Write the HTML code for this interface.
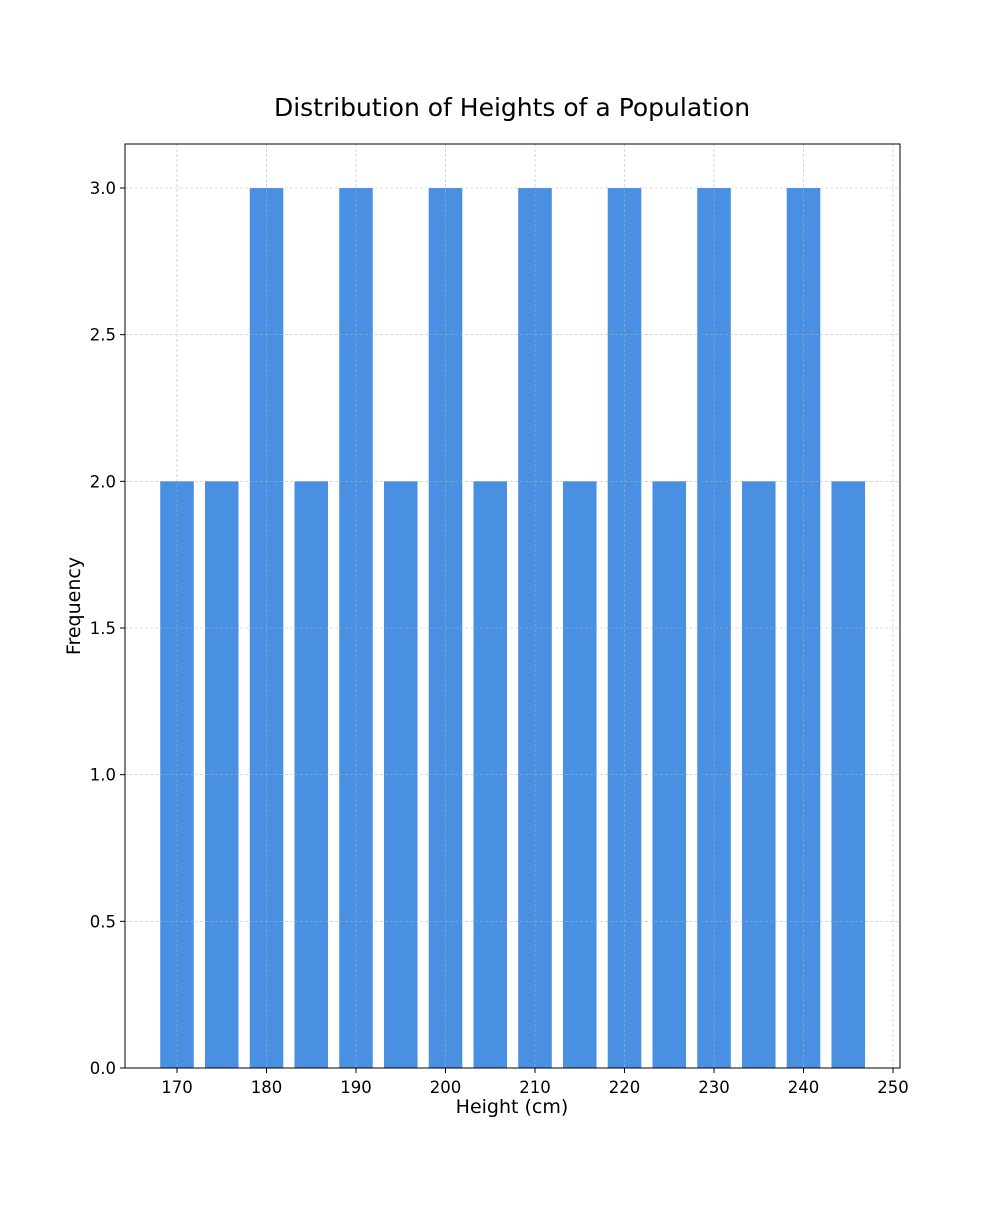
<!DOCTYPE html>
<html><head><meta charset="utf-8"><style>
body{margin:0;background:#fff;}
svg text{font-family:"DejaVu Sans","Liberation Sans",sans-serif;fill:#000;}
</style></head><body>
<svg id="chart" width="1000" height="1200" xmlns="http://www.w3.org/2000/svg">
<rect width="1000" height="1200" fill="#fff"/>
<text x="512" y="116" font-size="25" text-anchor="middle">Distribution of Heights of a Population</text>
<g id="bars"></g>
<g id="grid"></g>
<rect x="125" y="144" width="775" height="924" fill="none" stroke="#000" stroke-width="1"/>
<g id="ticks"></g>
<text x="512" y="1113" font-size="19" text-anchor="middle">Height (cm)</text>
<text transform="translate(80,606) rotate(-90)" font-size="19" text-anchor="middle">Frequency</text>
</svg>
<script>
const binCenters=[170,175,180,185,190,195,200,205,210,215,220,225,230,235,240,245];
const frequencies=[2,2,3,2,3,2,3,2,3,2,3,2,3,2,3,2];
const xTicks=[170,180,190,200,210,220,230,240,250];
const yTicks=[0,0.5,1.0,1.5,2.0,2.5,3.0];
const barWidth=3.75;
const NS="http://www.w3.org/2000/svg";
const L=125,R=900,T=144,B=1068,xmin=164.19,xmax=250.78,ymax=3.15;
const sx=v=>L+(v-xmin)/(xmax-xmin)*(R-L);
const sy=v=>B-v/ymax*(B-T);
function mk(tag,attrs,parent){const e=document.createElementNS(NS,tag);for(const k in attrs)e.setAttribute(k,attrs[k]);parent.appendChild(e);return e;}
const bars=document.getElementById('bars'),grid=document.getElementById('grid'),ticks=document.getElementById('ticks');
binCenters.forEach((c,i)=>{
 const r=mk('rect',{x:sx(c-barWidth/2),y:sy(frequencies[i]),width:sx(c+barWidth/2)-sx(c-barWidth/2),height:B-sy(frequencies[i]),fill:'#4a90e2'},bars);
 
 
});
xTicks.forEach(t=>{
 const x=sx(t);
 const g=mk('line',{x1:x,x2:x,y1:T,y2:B,stroke:'#b0b0b0','stroke-width':0.6,'stroke-dasharray':'3,2',opacity:0.8},grid);
 
 
 mk('line',{x1:x,x2:x,y1:B,y2:B+5,stroke:'#000'},ticks);
 const tx=mk('text',{x:x,y:B+25,'font-size':16.5,'text-anchor':'middle'},ticks);
 tx.textContent=t;
 
 
});
yTicks.forEach(t=>{
 const y=sy(t);
 const g=mk('line',{x1:L,x2:R,y1:y,y2:y,stroke:'#b0b0b0','stroke-width':0.6,'stroke-dasharray':'3,2',opacity:0.8},grid);
 
 
 mk('line',{x1:L-5,x2:L,y1:y,y2:y,stroke:'#000'},ticks);
 const tx=mk('text',{x:L-9,y:y+6,'font-size':16.5,'text-anchor':'end'},ticks);
 tx.textContent=t.toFixed(1);
 
 
});
</script>
</body></html>
